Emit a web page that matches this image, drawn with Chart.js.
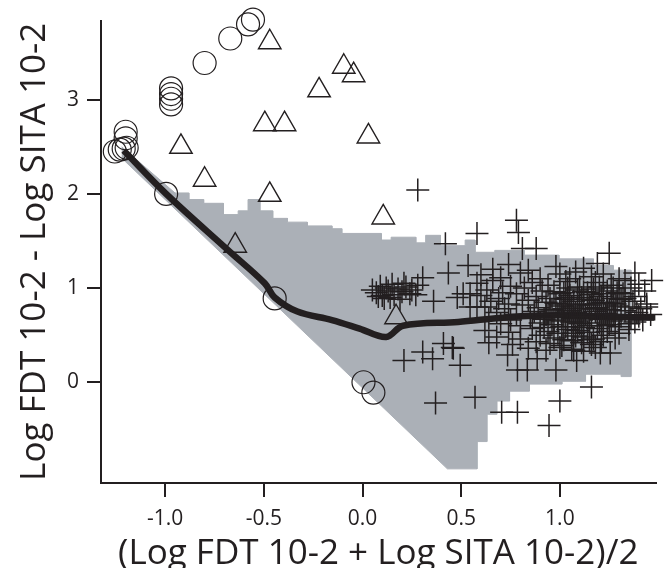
<!DOCTYPE html>
<html>
<head>
<meta charset="utf-8">
<script src="https://cdn.jsdelivr.net/npm/chart.js@4.4.0/dist/chart.umd.min.js"></script>
<style>
  body { margin: 0; background: #fff; }
  #wrap { width: 670px; height: 568px; }
</style>
</head>
<body>
<div id="wrap"><canvas id="bland" width="670" height="568"></canvas></div>
<script>
// tick values
const xTicks = [-1.0, -0.5, 0.0, 0.5, 1.0];
const yTicks = [0, 1, 2, 3];

// circles
const circleX = [-1.255, -1.23, -1.21, -1.195, -1.20, -1.20, -0.995, -0.97, -0.97, -0.97, -0.97, -0.80, -0.67, -0.58, -0.555, -0.445, 0.005, 0.055];
const circleY = [2.45, 2.47, 2.48, 2.49, 2.59, 2.66, 2.00, 3.12, 3.06, 3.01, 2.95, 3.39, 3.65, 3.80, 3.85, 0.89, 0.00, -0.11];

// triangles
const triX = [-0.92, -0.80, -0.47, -0.645, -0.495, -0.395, -0.22, -0.47, -0.095, -0.045, 0.03, 0.105, 0.17];
const triY = [2.50, 2.15, 1.99, 1.45, 2.74, 2.74, 3.10, 3.61, 3.35, 3.26, 2.61, 1.75, 0.69];

// crosses
const crossX = [
  0.28, 0.42, 0.58, 0.78, 0.79, 1.25, 1.38, 1.465, 0.305, 0.435, 0.535, 0.81, 0.88,
  0.05, 0.07, 0.09, 0.10, 0.12, 0.13, 0.15, 0.16, 0.18, 0.20, 0.22, 0.24, 0.25, 0.27, 0.28, 0.11, 0.14, 0.19, 0.21, 0.08,
  0.51, 0.48, 0.545, 0.36, 0.545, 0.58,
  0.21, 0.305, 0.355, 0.46, 0.495, 0.37, 0.57, 0.705, 0.785, 0.945, 1.00, 1.16, 0.98, 1.085, 0.835, 0.785, 0.735, 0.885, 1.07, 1.205, 1.255, 0.41, 0.455,
  0.66, 0.74, 0.84, 0.98, 1.12, 1.19,
  0.60, 0.70, 0.80, 0.90, 1.00, 1.08, 1.16, 1.22, 1.30,
  0.58, 0.66, 0.75, 0.86, 0.94, 1.03, 1.10, 1.18, 1.26, 1.33, 1.40,
  0.63, 0.71, 0.82, 0.91, 0.97, 1.04, 1.09, 1.14, 1.20, 1.24, 1.29, 1.36, 1.43,
  0.60, 0.69, 0.78, 0.88, 0.95, 1.00, 1.05, 1.11, 1.16, 1.21, 1.27, 1.32, 1.38,
  0.65, 0.74, 0.84, 0.93, 0.98, 1.03, 1.07, 1.12, 1.17, 1.22, 1.26, 1.31, 1.37, 1.44,
  0.62, 0.72, 0.81, 0.89, 0.96, 1.01, 1.06, 1.10, 1.15, 1.19, 1.24, 1.29, 1.35, 1.41,
  0.68, 0.78, 0.87, 0.94, 0.99, 1.04, 1.08, 1.13, 1.18, 1.23, 1.28, 1.33, 1.39, 1.46,
  0.64, 0.75, 0.85, 0.92, 0.97, 1.02, 1.07, 1.11, 1.16, 1.21, 1.26, 1.31, 1.36, 1.42,
  0.70, 0.80, 0.90, 0.96, 1.01, 1.06, 1.10, 1.15, 1.20, 1.25, 1.30, 1.38,
  0.62, 0.74, 0.86, 0.94, 0.99, 1.04, 1.09, 1.14, 1.19, 1.24, 1.30, 1.35,
  0.68, 0.80, 0.90, 0.97, 1.02, 1.08, 1.12, 1.17, 1.22, 1.28,
  0.64, 0.76, 0.88, 0.95, 1.01, 1.06, 1.11, 1.16, 1.21,
  0.84, 0.93, 1.00, 1.06, 1.12, 1.18,
  1.02, 1.12, 1.22, 1.30, 1.00, 1.09, 1.20, 1.28, 1.01, 1.10, 1.19, 1.27, 1.03, 1.12, 1.22, 0.95, 1.05, 1.15, 1.25,
  1.04, 1.14, 1.24, 0.99, 1.09, 1.18, 1.28, 1.33, 1.07, 1.15, 0.92, 1.17, 1.27, 1.05, 0.93, 1.35, 1.40, 1.44, 1.12, 1.02
];
const crossY = [
  2.04, 1.47, 1.58, 1.72, 1.59, 1.37, 1.16, 1.08, 1.11, 1.16, 1.24, 1.42, 1.42,
  0.98, 0.95, 1.02, 0.92, 1.00, 0.97, 1.04, 0.93, 0.99, 0.96, 1.01, 0.94, 0.98, 0.93, 1.03, 0.89, 0.90, 0.88, 1.05, 0.91,
  0.94, 0.90, 0.80, 0.86, 0.94, 0.80,
  0.23, 0.32, 0.25, 0.36, 0.18, -0.22, -0.16, -0.32, -0.32, -0.46, -0.20, -0.05, 0.13, 0.23, 0.13, 0.13, 0.29, 0.25, 0.34, 0.31, 0.31, 0.41, 0.37,
  1.20, 1.25, 1.19, 1.23, 1.21, 1.26,
  1.14, 1.11, 1.16, 1.10, 1.15, 1.17, 1.12, 1.15, 1.10,
  1.05, 1.08, 1.02, 1.06, 1.03, 1.07, 1.01, 1.06, 1.03, 1.08, 1.04,
  0.98, 0.95, 1.00, 0.97, 0.96, 1.00, 0.98, 0.95, 1.01, 0.97, 0.95, 1.00, 0.97,
  0.92, 0.89, 0.94, 0.91, 0.89, 0.94, 0.92, 0.90, 0.93, 0.91, 0.89, 0.94, 0.91,
  0.86, 0.83, 0.87, 0.85, 0.84, 0.88, 0.86, 0.83, 0.87, 0.85, 0.84, 0.88, 0.86, 0.83,
  0.80, 0.78, 0.82, 0.79, 0.77, 0.81, 0.80, 0.78, 0.82, 0.79, 0.77, 0.81, 0.80, 0.78,
  0.74, 0.72, 0.75, 0.73, 0.71, 0.76, 0.74, 0.72, 0.75, 0.73, 0.71, 0.76, 0.74, 0.72,
  0.68, 0.66, 0.69, 0.67, 0.65, 0.70, 0.68, 0.66, 0.69, 0.67, 0.65, 0.70, 0.68, 0.66,
  0.62, 0.60, 0.63, 0.61, 0.59, 0.64, 0.62, 0.60, 0.63, 0.61, 0.59, 0.64,
  0.55, 0.53, 0.57, 0.54, 0.52, 0.56, 0.55, 0.53, 0.57, 0.54, 0.52, 0.56,
  0.48, 0.46, 0.50, 0.47, 0.45, 0.49, 0.48, 0.46, 0.50, 0.47,
  0.42, 0.40, 0.43, 0.41, 0.39, 0.44, 0.42, 0.40, 0.43,
  0.36, 0.34, 0.37, 0.35, 0.33, 0.37,
  0.95, 0.96, 0.94, 0.95, 0.83, 0.82, 0.84, 0.83, 0.71, 0.70, 0.72, 0.71, 0.59, 0.58, 0.60, 0.77, 0.76, 0.78, 0.77,
  0.90, 0.88, 0.84, 0.66, 0.64, 0.78, 0.72, 0.89, 0.52, 0.45, 0.58, 0.99, 1.00, 1.10, 0.72, 0.62, 0.70, 0.80, 0.70, 0.78
];

// smoothed mean line
const lineX = [-1.21, -0.995, -0.68, -0.495, -0.445, -0.33, -0.155, -0.015, 0.12, 0.205, 0.485, 0.735, 0.985, 1.32, 1.485];
const lineY = [2.46, 2.00, 1.40, 1.05, 0.90, 0.75, 0.66, 0.57, 0.48, 0.60, 0.64, 0.69, 0.71, 0.69, 0.69];

// grey region: stepped upper edge, diagonal + stepped lower edge
const bandStart = [-1.22, 2.50];
const upperStepX = [-0.95, -0.88, -0.805, -0.705, -0.63, -0.58, -0.52, -0.455, -0.38, -0.28, -0.155, -0.105, 0.095, 0.145, 0.27, 0.32, 0.395, 0.52, 0.57, 0.67, 0.82, 0.995, 1.17, 1.27, 1.36];
const upperStepY = [2.01, 1.94, 1.90, 1.78, 1.82, 1.94, 1.82, 1.74, 1.70, 1.66, 1.63, 1.58, 1.51, 1.54, 1.48, 1.56, 1.45, 1.51, 1.38, 1.40, 1.35, 1.31, 1.24, 1.19];
const lowerStepX = [0.43, 0.58, 0.63, 0.68, 0.745, 0.845, 1.01, 1.13, 1.31, 1.36];
const lowerStepY = [-0.92, -0.63, -0.34, -0.20, -0.095, -0.02, 0.01, 0.085, 0.06];
const bandEnd = [-1.22, 2.38];

const INK = '#231f20';
const GREY = '#abb0b7';
const FONT = '"Open Sans", Lato, sans-serif';

const pts = (xs, ys) => xs.map((x, i) => ({x: x, y: ys[i]}));

function stairs(xs, ys) {
	const out = [];
	ys.forEach((y, i) => {
		out.push({x: xs[i], y: y});
		out.push({x: xs[i + 1], y: y});
	});
	return out;
}

const bandPoly = [{x: bandStart[0], y: bandStart[1]}]
	.concat(stairs(upperStepX, upperStepY))
	.concat(stairs(lowerStepX, lowerStepY).reverse())
	.concat([{x: bandEnd[0], y: bandEnd[1]}]);

const markerStyle = {
	showLine: false,
	backgroundColor: 'rgba(0,0,0,0)',
	borderColor: INK,
	pointBackgroundColor: 'rgba(0,0,0,0)',
	pointBorderColor: INK,
	pointHoverRadius: 0,
	clip: false
};

const axisCommon = {
	type: 'linear',
	grid: {
		display: true,
		drawOnChartArea: false,
		drawTicks: true,
		tickLength: 14,
		color: INK,
		lineWidth: 2
	},
	border: { display: true, color: INK, width: 2 }
};

new Chart(document.getElementById('bland'), {
	type: 'scatter',
	data: {
		datasets: [
			Object.assign({}, markerStyle, {
				label: 'triangles',
				data: pts(triX, triY),
				pointStyle: 'triangle',
				pointRadius: 13,
				pointBorderWidth: 1.4,
				order: 1
			}),
			Object.assign({}, markerStyle, {
				label: 'circles',
				data: pts(circleX, circleY),
				pointStyle: 'circle',
				pointRadius: 11.5,
				pointBorderWidth: 1.2,
				order: 2
			}),
			Object.assign({}, markerStyle, {
				label: 'crosses',
				data: pts(crossX, crossY),
				pointStyle: 'cross',
				pointRadius: 11.5,
				pointBorderWidth: 1.5,
				order: 3
			}),
			{
				label: 'mean',
				data: pts(lineX, lineY),
				showLine: true,
				borderColor: INK,
				borderWidth: 6.5,
				tension: 0.35,
				pointRadius: 0,
				pointHoverRadius: 0,
				order: 4
			},
			{
				label: 'region',
				data: bandPoly,
				showLine: true,
				fill: 'shape',
				backgroundColor: GREY,
				borderColor: GREY,
				borderWidth: 1,
				pointRadius: 0,
				pointHoverRadius: 0,
				order: 5
			}
		]
	},
	options: {
		responsive: false,
		animation: false,
		events: [],
		layout: { padding: { top: 20, right: 7, left: 0, bottom: 0 } },
		plugins: {
			legend: { display: false },
			tooltip: { enabled: false }
		},
		scales: {
			x: Object.assign({}, axisCommon, {
				min: -1.325,
				max: 1.485,
				afterBuildTicks: s => { s.ticks = xTicks.map(v => ({value: v})); },
				afterFit: s => { s.height = 85; },
				ticks: {
					callback: v => Number(v).toFixed(1),
					font: { family: FONT, size: 21 },
					color: INK,
					padding: 9,
					maxRotation: 0,
					autoSkip: false
				},
				title: {
					display: true,
					text: '(Log FDT 10-2 + Log SITA 10-2)/2',
					font: { family: FONT, size: 35, lineHeight: 1 },
					color: INK,
					padding: { top: 0, bottom: -4 }
				}
			}),
			y: Object.assign({}, axisCommon, {
				min: -1.07,
				max: 3.84,
				afterBuildTicks: s => { s.ticks = yTicks.map(v => ({value: v})); },
				afterFit: s => { s.width = 101; },
				ticks: {
					callback: v => String(v),
					font: { family: FONT, size: 21 },
					color: INK,
					padding: 8,
					autoSkip: false
				},
				title: {
					display: true,
					text: 'Log FDT 10-2 - Log SITA 10-2',
					font: { family: FONT, size: 35, lineHeight: 1 },
					color: INK,
					padding: { top: 18, bottom: 0 }
				}
			})
		}
	}
});
</script>
</body>
</html>
